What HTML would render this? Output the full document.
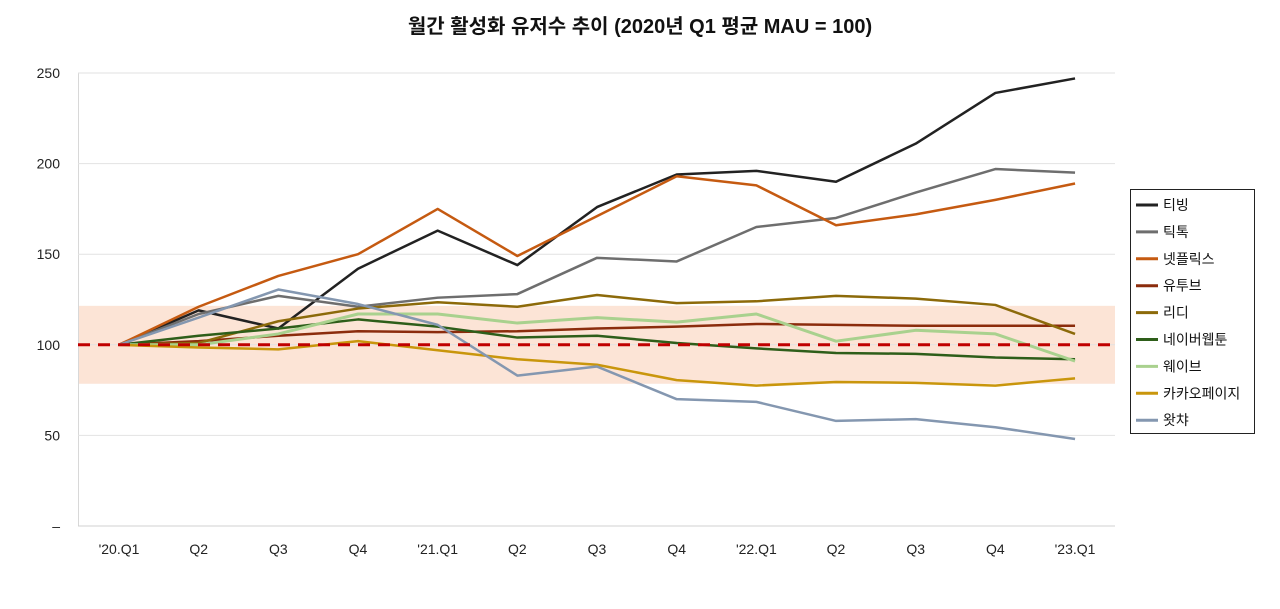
<!DOCTYPE html>
<html><head><meta charset="utf-8"><style>
body{margin:0;background:#fff;font-family:"Liberation Sans","Noto Sans CJK KR",sans-serif;}
svg text{font-family:"Liberation Sans","Noto Sans CJK KR",sans-serif;}
</style></head><body>
<svg id="c" width="1280" height="604">
<text x="640" y="33" text-anchor="middle" font-size="20" font-weight="bold" fill="#111">월간 활성화 유저수 추이 (2020년 Q1 평균 MAU = 100)</text>
</svg>
<script>
const categories=["'20.Q1","Q2","Q3","Q4","'21.Q1","Q2","Q3","Q4","'22.Q1","Q2","Q3","Q4","'23.Q1"];
const yTicks=[0,50,100,150,200,250];
const yTickLabels=["–","50","100","150","200","250"];
const bandRange=[78.5,121.5];
const baseline=100;
const seriesNames=["티빙","틱톡","넷플릭스","유투브","리디","네이버웹툰","웨이브","카카오페이지","왓챠"];
const tving=[100,119,109,142,163,144,176,194,196,190,211,239,247];
const tiktok=[100,117,127,121,126,128,148,146,165,170,184,197,195];
const netflix=[100,121,138,150,175,149,171,193,188,166,172,180,189];
const youtube=[100,102,105,107.5,107,107.5,109,110,111.5,111,110.5,110.5,110.5];
const ridi=[100,101,113,120,123.5,121,127.5,123,124,127,125.5,122,106];
const naver=[100,105,109,114,110,104,105,101,98,95.5,95,93,92];
const wavve=[100,100,106,117,117,112,115,112.5,117,102,108,106,91];
const kakao=[100,98.5,97.5,102,97,92,89,80.5,77.5,79.5,79,77.5,81.5];
const watcha=[100,115,130.5,122.5,111,83,88,70,68.5,58,59,54.5,48];
const series=[tving,tiktok,netflix,youtube,ridi,naver,wavve,kakao,watcha];
const colors=["#222222","#6e6e6e","#c55a11","#8b2c0c","#8c6a0a","#2e5e1a","#a9d18e","#c9960c","#8497b0"];
const svg=document.getElementById('c');const NS="http://www.w3.org/2000/svg";
const X0=119,XS=79.67,Y0=526,YS=453/250;
const x=i=>X0+i*XS, y=v=>Y0-v*YS;
function mk(t,a,p){const e=document.createElementNS(NS,t);for(const k in a)e.setAttribute(k,a[k]);(p||svg).appendChild(e);return e;}
const band=mk('rect',{x:78,y:y(bandRange[1]),width:1037,height:y(bandRange[0])-y(bandRange[1]),fill:'#fce4d6'});


const ax=mk('line',{x1:78.5,x2:78.5,y1:y(250),y2:Y0,stroke:'#d8d8d8','stroke-width':1});


yTicks.forEach((t,i)=>{
 const g=mk('line',{x1:78,x2:1115,y1:y(t),y2:y(t),stroke:i==0?'#d0d0d0':'#e2e2e2','stroke-width':1});
 
 
 const tx=mk('text',{x:60,y:y(t)+5,'text-anchor':'end','font-size':14,fill:'#222'});tx.textContent=yTickLabels[i];
 
 
});
categories.forEach((c,i)=>{
 const tx=mk('text',{x:x(i),y:554,'text-anchor':'middle','font-size':14,fill:'#222'});tx.textContent=c;
 
 
});
series.forEach((s,k)=>{
 const p=mk('polyline',{points:s.map((v,i)=>x(i)+','+y(v)).join(' '),fill:'none',stroke:colors[k],'stroke-width':k==6?3:2.5,'stroke-linejoin':'round'});
 
 
});
const bl=mk('line',{x1:78,x2:1115,y1:y(baseline),y2:y(baseline),stroke:'#c00000','stroke-width':3,'stroke-dasharray':'12,8'});


const lg=mk('rect',{x:1130.5,y:189.5,width:124,height:244,fill:'#fff',stroke:'#222'});


seriesNames.forEach((n,k)=>{
 const yy=205+k*26.9;
 const l=mk('line',{x1:1136,x2:1158,y1:yy,y2:yy,stroke:colors[k],'stroke-width':3});
 
 
 const t=mk('text',{x:1163,y:yy+5,'font-size':14,fill:'#111'});t.textContent=n;
 
 
});
</script>
</body></html>
